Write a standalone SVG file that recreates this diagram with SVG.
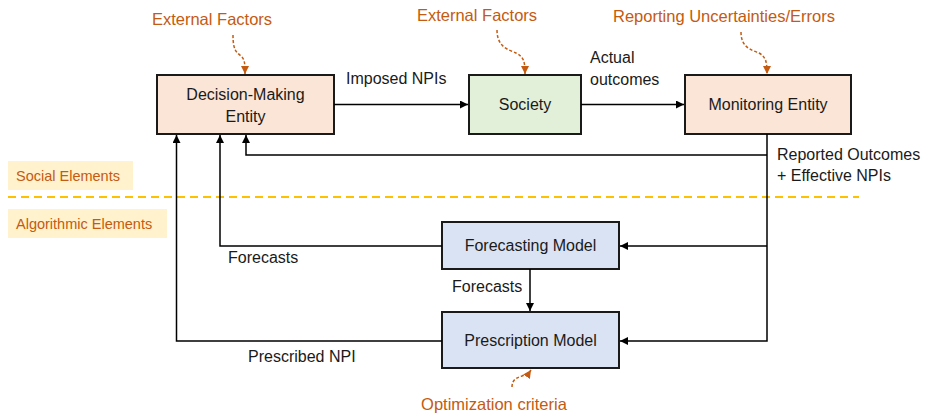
<svg xmlns="http://www.w3.org/2000/svg" width="928" height="416" viewBox="0 0 928 416">
  <style>
    text { font-family: "Liberation Sans", Arial, sans-serif; font-size: 16px; fill: #1a1a1a; }
    .note { fill: #C55A11; font-size: 16.5px; }
    .note.small { font-size: 14.5px; }
    .mid { text-anchor: middle; }
    .box { stroke: #1a1a1a; stroke-width: 2; }
    .peach { fill: #FBE5D6; }
    .green { fill: #E2F0D9; }
    .blue { fill: #DAE3F3; }
    .tag { fill: #FFF2CC; }
    .link { fill: none; stroke: #000; stroke-width: 1.5; }
    .influence { fill: none; stroke: #C55A11; stroke-width: 1.5; stroke-dasharray: 3 2; }
  </style>
  <defs>
    <marker id="arrow" viewBox="0 0 8 8" refX="8" refY="4" markerWidth="8" markerHeight="8" markerUnits="userSpaceOnUse" orient="auto">
      <path d="M0,0 L8,4 L0,8 z" fill="#000"/>
    </marker>
    <marker id="arrow-orange" viewBox="0 0 8 8" refX="8" refY="4" markerWidth="8" markerHeight="8" markerUnits="userSpaceOnUse" orient="auto">
      <path d="M0,0 L8,4 L0,8 z" fill="#C55A11"/>
    </marker>
  </defs>

  <!-- domain labels and divider -->
  <g id="social-label">
    <rect class="tag" x="8" y="161" width="125" height="29"/>
    <text class="note small" x="16" y="181">Social Elements</text>
  </g>
  <g id="algorithmic-label">
    <rect class="tag" x="8" y="209" width="159" height="29"/>
    <text class="note small" x="16" y="229">Algorithmic Elements</text>
  </g>
  <line id="divider" x1="8" y1="197" x2="859" y2="197" stroke="#FFC000" stroke-width="2" stroke-dasharray="8 5"/>

  <!-- nodes -->
  <g id="decision-making">
    <rect class="box peach" x="157" y="75" width="177" height="59"/>
    <text class="mid" x="245.5" y="100">Decision-Making</text>
    <text class="mid" x="245.5" y="122">Entity</text>
  </g>
  <g id="society">
    <rect class="box green" x="469" y="75" width="112" height="59"/>
    <text class="mid" x="525" y="110">Society</text>
  </g>
  <g id="monitoring">
    <rect class="box peach" x="685" y="75" width="166" height="59"/>
    <text class="mid" x="768" y="110">Monitoring Entity</text>
  </g>
  <g id="forecasting">
    <rect class="box blue" x="442" y="222" width="177" height="47"/>
    <text class="mid" x="530.5" y="251">Forecasting Model</text>
  </g>
  <g id="prescription">
    <rect class="box blue" x="442" y="312" width="177" height="56"/>
    <text class="mid" x="530.5" y="346">Prescription Model</text>
  </g>

  <!-- outside influences -->
  <g id="influences">
    <text class="note mid" x="212" y="25">External Factors</text>
    <path class="influence" d="M233,35 C233,50 236,52 241,56 C245,60 245,64 245,74" marker-end="url(#arrow-orange)"/>
    <text class="note mid" x="477" y="21">External Factors</text>
    <path class="influence" d="M497,30 C497,48 510,50 516,53 C524,57 525,62 525,74" marker-end="url(#arrow-orange)"/>
    <text class="note mid" x="724" y="22">Reporting Uncertainties/Errors</text>
    <path class="influence" d="M741,32 C741,48 752,50 759,53 C766,57 767,62 767,74" marker-end="url(#arrow-orange)"/>
    <text class="note mid" x="494" y="410">Optimization criteria</text>
    <path class="influence" d="M512,387 C512,380 516,378 522,376 C527,374 529,373 531,370" marker-end="url(#arrow-orange)"/>
  </g>

  <!-- connectors -->
  <g id="connectors">
    <path class="link" d="M334,104.5 H468" marker-end="url(#arrow)"/>
    <path class="link" d="M581,104.5 H684" marker-end="url(#arrow)"/>
    <path class="link" d="M767,134 V341 H620" marker-end="url(#arrow)"/>
    <path class="link" d="M767,155 H246 V135" marker-end="url(#arrow)"/>
    <path class="link" d="M767,246 H620" marker-end="url(#arrow)"/>
    <path class="link" d="M442,246 H220 V135" marker-end="url(#arrow)"/>
    <path class="link" d="M442,341 H176.5 V135" marker-end="url(#arrow)"/>
    <path class="link" d="M530,269 V311" marker-end="url(#arrow)"/>
  </g>

  <!-- connector labels -->
  <g id="connector-labels">
    <text x="346" y="84">Imposed NPIs</text>
    <text x="590" y="63">Actual</text>
    <text x="590" y="85">outcomes</text>
    <text x="777" y="160">Reported Outcomes</text>
    <text x="777" y="181">+ Effective NPIs</text>
    <text x="228" y="263">Forecasts</text>
    <text x="452" y="292">Forecasts</text>
    <text x="248" y="362">Prescribed NPI</text>
  </g>
</svg>
